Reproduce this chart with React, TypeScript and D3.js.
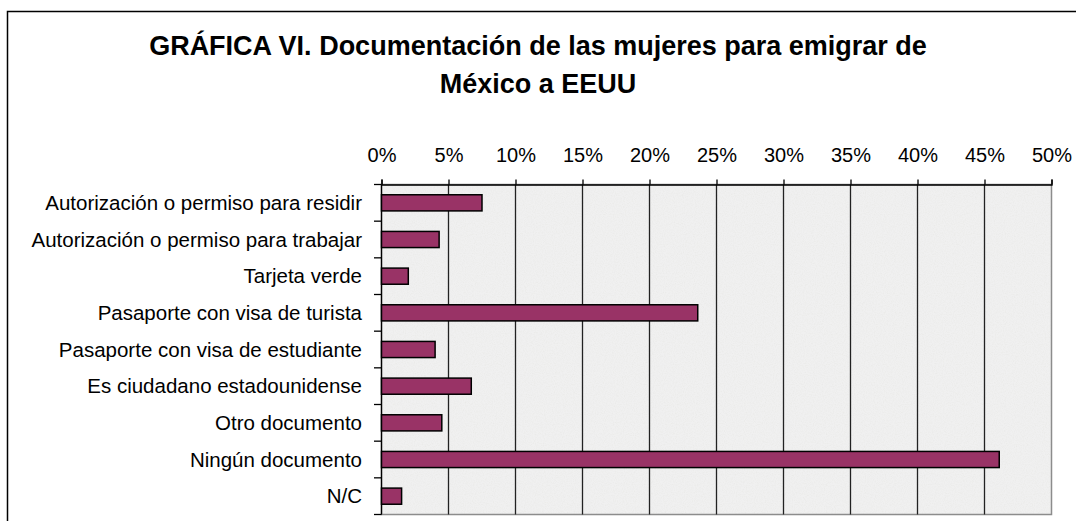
import React, { useEffect, useRef } from 'react';
import * as d3 from 'd3';

// categories top to bottom, share of women (%)
const categories = [
  'Autorización o permiso para residir',
  'Autorización o permiso para trabajar',
  'Tarjeta verde',
  'Pasaporte con visa de turista',
  'Pasaporte con visa de estudiante',
  'Es ciudadano estadounidense',
  'Otro documento',
  'Ningún documento',
  'N/C',
];
const values = [7.5, 4.3, 2.0, 23.6, 4.0, 6.7, 4.5, 46.1, 1.5];
const xTicks = [0, 5, 10, 15, 20, 25, 30, 35, 40, 45, 50];
const titleLines = ['GRÁFICA VI. Documentación de las mujeres para emigrar de', 'México a EEUU'];

const W = 1076;
const H = 521;
const FONT = 'Liberation Sans, Arial, sans-serif';

export default function App() {
  const ref = useRef<SVGSVGElement>(null);

  useEffect(() => {
    const svg = d3.select(ref.current);
    svg.selectAll('*').remove();

    const defs = svg.append('defs');
    const f = defs.append('filter').attr('id', 'granite').attr('x', 0).attr('y', 0).attr('width', 1).attr('height', 1);
    f.append('feTurbulence').attr('type', 'fractalNoise').attr('baseFrequency', 0.9).attr('numOctaves', 2).attr('seed', 3).attr('result', 'n');
    f.append('feColorMatrix').attr('in', 'n').attr('type', 'matrix')
      .attr('values', '0 0 0 0 0.8  0 0 0 0 0.8  0 0 0 0 0.78  1.4 0 0 0 -0.58')
      .attr('result', 'spots');
    f.append('feFlood').attr('flood-color', '#f0f0f0').attr('result', 'bg');
    f.append('feComposite').attr('in', 'spots').attr('in2', 'bg').attr('operator', 'over');

    const x = d3.scaleLinear().domain([0, 50]).range([381.5, 1051.5]);
    const y = d3.scaleBand<string>().domain(categories).range([184.5, 514.5]);
    const barH = y.bandwidth() * 0.44;

    // outer frame (cropped on right and bottom)
    svg.append('rect')
      .attr('x', 7.5).attr('y', 11.5).attr('width', 1200).attr('height', 700)
      .attr('fill', 'white').attr('stroke', 'black').attr('stroke-width', 1.5);

    // title
    svg.append('g').selectAll('text').data(titleLines).join('text')
      .attr('x', 538).attr('y', (d, i) => 55 + i * 38)
      .attr('text-anchor', 'middle')
      .style('font-family', FONT).style('font-weight', 'bold').style('font-size', '27px')
      .text(d => d);

    // plot area
    svg.append('rect')
      .attr('x', x(0)).attr('y', 184.5).attr('width', x(50) - x(0)).attr('height', 330)
      .attr('fill', '#f0f0f0').attr('filter', 'url(#granite)');
    svg.append('rect')
      .attr('x', x(0)).attr('y', 184.5).attr('width', x(50) - x(0)).attr('height', 330)
      .attr('fill', 'none').attr('stroke', '#8c8c8c').attr('stroke-width', 1.5);

    // gridlines
    svg.append('g').selectAll('line').data(xTicks.slice(1, -1)).join('line')
      .attr('x1', d => x(d)).attr('x2', d => x(d)).attr('y1', 184.5).attr('y2', 514.5)
      .attr('stroke', '#222').attr('stroke-width', 1.3);

    // top axis
    const xAxis = d3.axisTop(x).tickValues(xTicks).tickSize(5).tickPadding(18).tickFormat(d => `${d}%`);
    const gx = svg.append('g').attr('transform', 'translate(0,184.5)').call(xAxis);
    gx.select('.domain').attr('stroke', 'black').attr('stroke-width', 1.3);
    gx.selectAll('.tick line').attr('stroke', 'black').attr('stroke-width', 1.3);
    gx.selectAll('.tick text').style('font-family', FONT).style('font-size', '20px').attr('fill', 'black');

    // left axis with boundary ticks
    const bounds = categories.map(c => y(c) as number).concat([514.5]);
    svg.append('line').attr('x1', x(0)).attr('x2', x(0)).attr('y1', 184.5).attr('y2', 514.5)
      .attr('stroke', 'black').attr('stroke-width', 1.3);
    svg.append('g').selectAll('line').data(bounds).join('line')
      .attr('x1', 374).attr('x2', x(0)).attr('y1', d => d).attr('y2', d => d)
      .attr('stroke', 'black').attr('stroke-width', 1.3);
    svg.append('g').selectAll('text').data(categories).join('text')
      .attr('x', 362).attr('y', d => (y(d) as number) + y.bandwidth() / 2)
      .attr('dy', '0.35em').attr('text-anchor', 'end')
      .style('font-family', FONT).style('font-size', '20.5px')
      .text(d => d);

    // bars
    svg.append('g').selectAll('rect').data(values).join('rect')
      .attr('x', x(0))
      .attr('y', (d, i) => (y(categories[i]) as number) + (y.bandwidth() - barH) / 2)
      .attr('width', d => x(d) - x(0))
      .attr('height', barH)
      .attr('fill', '#993366').attr('stroke', 'black').attr('stroke-width', 1.5);
  }, []);

  return (
    <svg ref={ref} width={W} height={H}
      style={{ position: 'absolute', left: 0, top: 0, display: 'block', background: 'white' }} />
  );
}
